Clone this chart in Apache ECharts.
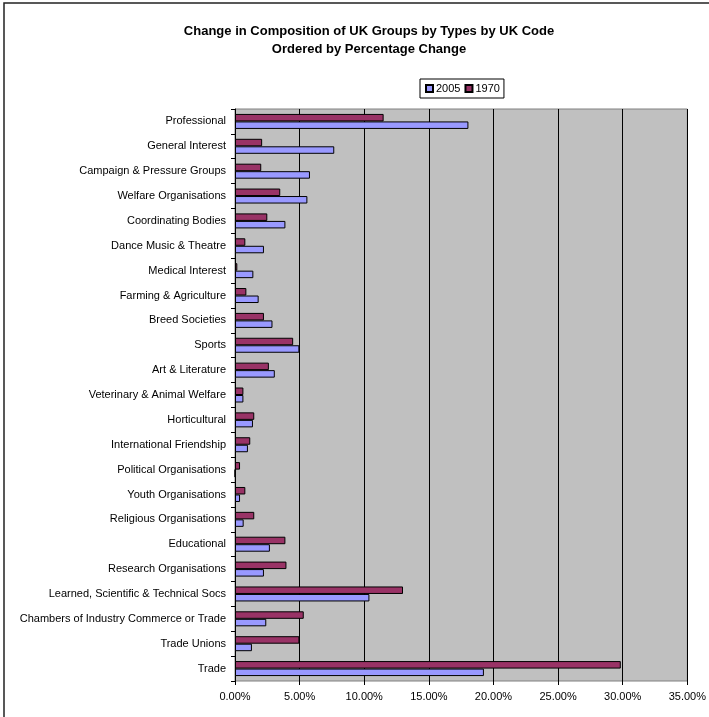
<!DOCTYPE html>
<html>
<head>
    <meta charset="utf-8">
    <title>Change in Composition of UK Groups</title>
    <script src="https://cdn.jsdelivr.net/npm/echarts@6/dist/echarts.min.js"></script>
    <style>
        html, body { margin: 0; padding: 0; background: #fff; }
        #main { width: 709px; height: 717px; }
    </style>
</head>
<body>
<div id="main"></div>
<script>
    // categories, top to bottom
    var categories = [
        'Professional', 'General Interest', 'Campaign & Pressure Groups', 'Welfare Organisations',
        'Coordinating Bodies', 'Dance Music & Theatre', 'Medical Interest', 'Farming & Agriculture',
        'Breed Societies', 'Sports', 'Art & Literature', 'Veterinary & Animal Welfare',
        'Horticultural', 'International Friendship', 'Political Organisations', 'Youth Organisations',
        'Religious Organisations', 'Educational', 'Research Organisations',
        'Learned, Scientific & Technical Socs', 'Chambers of Industry Commerce or Trade',
        'Trade Unions', 'Trade'
    ];
    // percentage share of groups
    var values2005 = [18.06, 7.68, 5.8, 5.6, 3.9, 2.24, 1.42, 1.83, 2.9, 4.98, 3.08, 0.65,
        1.39, 1.0, 0, 0.39, 0.67, 2.7, 2.24, 10.4, 2.42, 1.31, 19.26];
    var values1970 = [11.5, 2.1, 2.03, 3.5, 2.5, 0.8, 0.18, 0.88, 2.24, 4.5, 2.62, 0.65,
        1.49, 1.18, 0.39, 0.8, 1.49, 3.9, 3.98, 13.0, 5.32, 4.98, 29.85];

    var myChart = echarts.init(document.getElementById('main'));
    var font = 'Arial, "Liberation Sans", sans-serif';

    myChart.setOption({
        animation: false,
        textStyle: { fontFamily: font },
        title: {
            text: 'Change in Composition of UK Groups by Types by UK Code\nOrdered by Percentage Change',
            left: 364,
            top: 17,
            textAlign: 'center',
            textStyle: { fontSize: 13, fontWeight: 'bold', color: '#000', lineHeight: 18, fontFamily: font }
        },
        legend: {
            data: ['2005', '1970'],
            left: 420,
            top: 79,
            orient: 'horizontal',
            icon: 'rect',
            itemWidth: 7,
            itemHeight: 7,
            itemGap: 4,
            padding: [4, 4, 4, 5],
            borderColor: '#000',
            borderWidth: 1,
            backgroundColor: '#fff',
            textStyle: { fontSize: 11, color: '#000', padding: [0, 0, 0, -2] }
        },
        graphic: [{
            type: 'rect',
            shape: { x: 4, y: 3, width: 900, height: 900 },
            style: { fill: 'none', stroke: '#222', lineWidth: 1.5 },
            silent: true
        }],
        grid: {
            left: 235,
            right: 19,
            top: 109,
            bottom: 36,
            show: true,
            backgroundColor: '#C0C0C0',
            borderColor: '#808080',
            borderWidth: 1
        },
        xAxis: {
            type: 'value',
            min: 0,
            max: 35,
            interval: 5,
            axisLine: { show: false },
            axisTick: { show: true, length: 4, lineStyle: { color: '#000' } },
            axisLabel: {
                fontSize: 11, color: '#000', margin: 10,
                formatter: function (v) { return v.toFixed(2) + '%'; }
            },
            splitLine: { show: true, lineStyle: { color: '#000', width: 1 } }
        },
        yAxis: {
            type: 'category',
            data: categories,
            inverse: true,
            axisLine: { show: true, lineStyle: { color: '#000' } },
            axisTick: { show: true, length: 4, interval: 0, lineStyle: { color: '#000' } },
            axisLabel: { fontSize: 11, color: '#000', margin: 9, interval: 0 }
        },
        series: [{
            name: '1970',
            type: 'bar',
            data: values1970,
            barWidth: 7.5,
            barGap: '0%',
            itemStyle: { color: '#993366', borderColor: '#000', borderWidth: 1 }
        }, {
            name: '2005',
            type: 'bar',
            data: values2005,
            barWidth: 7.5,
            barGap: '0%',
            itemStyle: { color: '#9999FF', borderColor: '#000', borderWidth: 1 }
        }]
    });
</script>
</body>
</html>
